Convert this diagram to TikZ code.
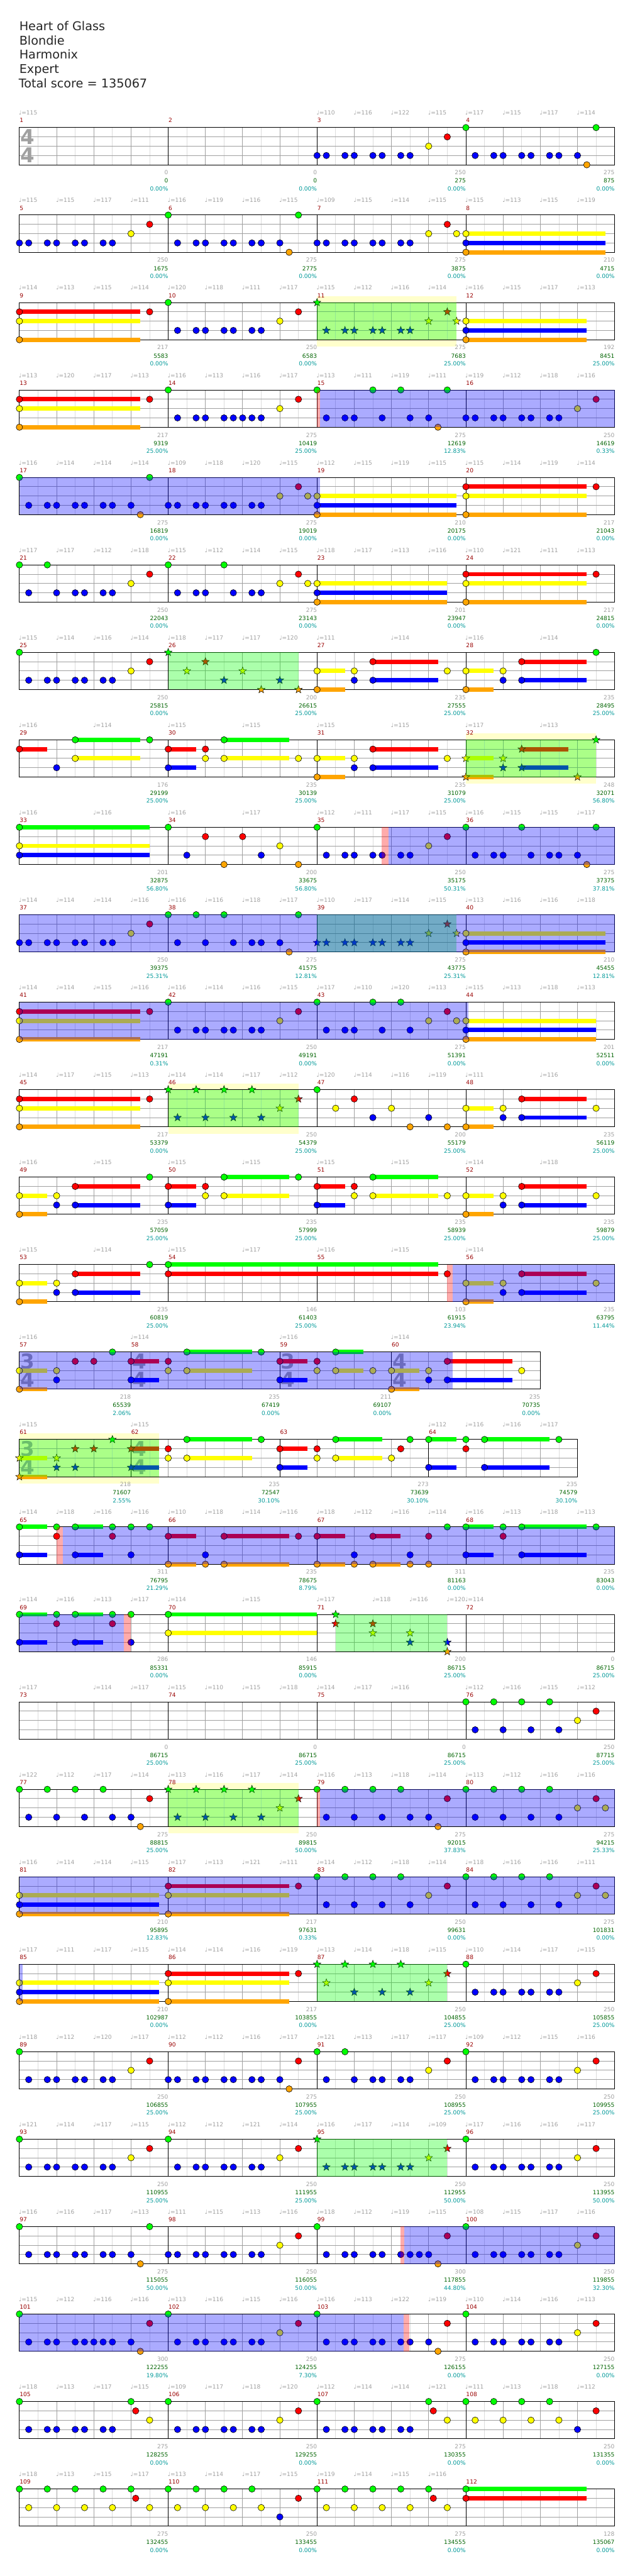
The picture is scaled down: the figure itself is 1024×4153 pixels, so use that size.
\documentclass[tikz,border=0pt]{standalone}
\usepackage{fontspec}
\setmainfont{DejaVu Sans}
\usetikzlibrary{shapes.geometric}
\definecolor{ln0}{HTML}{00FF00}
\definecolor{ln1}{HTML}{FF0000}
\definecolor{ln2}{HTML}{FFFF00}
\definecolor{ln3}{HTML}{0000FF}
\definecolor{ln4}{HTML}{FFA500}
\definecolor{tgray}{HTML}{A0A0A0}
\definecolor{bgray}{HTML}{A0A0A0}
\definecolor{hbgray}{HTML}{DCDCDC}
\definecolor{mred}{HTML}{990000}
\definecolor{sgreen}{HTML}{006400}
\definecolor{pteal}{HTML}{009999}
\definecolor{bandc}{HTML}{FFFFCC}
\tikzset{
 hbl/.style={draw=hbgray, line width=0.8},
 bl/.style={draw=bgray, line width=0.9},
 ml/.style={draw=black, line width=1},
 notec/.style={draw=black, line width=0.6},
 starn/.style={star, star points=5, star point ratio=2.4, minimum size=13, inner sep=0, draw=black, line width=0.5},
 smallf/.style={font=\fontsize{9.2}{10}\selectfont, inner sep=0},
 tmpf/.style={smallf, text=tgray},
 mnumf/.style={smallf, text=mred},
 gnumf/.style={smallf, text=tgray},
 snumf/.style={smallf, text=sgreen},
 pnumf/.style={smallf, text=pteal},
 tsf/.style={font=\fontsize{33}{33}\selectfont\bfseries, text=tgray, inner sep=0},
 titf/.style={font=\fontsize{19.5}{23}\selectfont, text=black!85, inner sep=0},
}
\newcommand\Grid[2]{%
 \pgfmathtruncatemacro\gA{#1-2}%
 \pgfmathtruncatemacro\gB{#1-4}%
 \foreach \p in {2,6,...,\gA} \draw[hbl] ({31.3+15*\p},0) -- ++(0,60);
 \foreach \p in {4,8,...,\gB} \draw[bl] ({31.3+15*\p},0) -- ++(0,60);
 \foreach \l in {1,2,3} \draw[bl] (31.3,{15*\l}) -- ({31.3+15*#1},{15*\l});
 \foreach \p in {#2} \draw[ml] ({31.3+15*\p},0) -- ++(0,60);
 \draw[ml] (31.3,0) rectangle ({31.3+15*#1},60);
}
\newcommand\Nts[1]{\foreach \p/\l in {#1}{\filldraw[notec, fill=ln\l] ({31.3+15*\p},{15*\l}) circle[radius=5.2];}}
\newcommand\Sus[1]{\foreach \p/\q/\l in {#1}{\draw[line width=7, draw=ln\l] ({31.3+15*\p},{15*\l}) -- ({31.3+15*\q},{15*\l});}}
\newcommand\Sts[1]{\foreach \p/\l in {#1}{\node[starn, fill=ln\l] at ({31.3+15*\p},{15*\l}) {};}}
\newcommand\Ovb[2]{\fill[ln3, opacity=0.33] ({31.3+15*#1},0) rectangle ({31.3+15*#2},60);}
\newcommand\Ovg[2]{\fill[ln0, opacity=0.33] ({31.3+15*#1},0) rectangle ({31.3+15*#2},60);}
\newcommand\Ovp[2]{\fill[ln1, opacity=0.33] ({31.3+15*#1},0) rectangle ({31.3+15*#2},60);}
\newcommand\Band[2]{\fill[bandc] ({31.3+15*#1},-10) rectangle ({31.3+15*#2},71);}
\newcommand\TmpFull[1]{\foreach \v [count=\i from 0] in {#1}{\node[tmpf, anchor=base west] at ({31.3+60*\i-1},-20.3) {♩=\v};}}
\newcommand\Tmp[1]{\foreach \p/\v in {#1}{\node[tmpf, anchor=base west] at ({31.3+15*\p-1},-20.3) {♩=\v};}}
\newcommand\Labs[1]{\foreach \p/\a/\b/\c in {#1}{%
 \node[gnumf, anchor=base east] at ({31.3+15*\p},76) {\a};
 \node[snumf, anchor=base east] at ({31.3+15*\p},89.3) {\b};
 \node[pnumf, anchor=base east] at ({31.3+15*\p},102) {\c\%};}}
\newcommand\LabFull[1]{\foreach \a/\b/\c [count=\i from 1] in {#1}{%
 \node[gnumf, anchor=base east] at ({31.3+240*\i},76) {\a};
 \node[snumf, anchor=base east] at ({31.3+240*\i},89.3) {\b};
 \node[pnumf, anchor=base east] at ({31.3+240*\i},102) {\c\%};}}
\newcommand\MnumFull[1]{\foreach \i in {0,1,2,3}{\pgfmathtruncatemacro\mn{#1+\i}\node[mnumf, anchor=base west] at ({31.3+240*\i+0.3},-8) {\mn};}}
\newcommand\Mnums[1]{\foreach \p/\n in {#1}{\node[mnumf, anchor=base west] at ({31.3+15*\p+0.3},-8) {\n};}}
\newcommand\TSig[3]{\node[tsf] at ({31.3+15*#1+13.3},14.6) {#2}; \node[tsf] at ({31.3+15*#1+13.3},44.6) {#3};}
\begin{document}
\begin{tikzpicture}[x=1pt,y=-1pt]
\useasboundingbox (0,0) rectangle (1024,4153);
\fill[white] (0,0) rectangle (1024,4153);
\node[titf, anchor=base west] (title) at (31,49) {Heart of Glass};
\node[titf, anchor=base west] (artist) at (31,72) {Blondie};
\node[titf, anchor=base west] (author) at (31,95) {Harmonix};
\node[titf, anchor=base west] (level) at (31,118) {Expert};
\node[titf, anchor=base west] (total) at (30,141) {Total score = 135067};
% row 1
\begin{scope}[shift={(0,205.7)}]
\Grid{64}{16,32,48}
\TSig{0}{4}{4}
\Nts{32/3,33/3,35/3,36/3,38/3,39/3,41/3,42/3,44/2,46/1,48/0,49/3,51/3,52/3,54/3,55/3,57/3,58/3,60/3,61/4,62/0}
\Tmp{0/115,32/110,36/116,40/122,44/115,48/117,52/115,56/117,60/114}
\MnumFull{1}
\LabFull{0/0/0.00,0/0/0.00,250/275/0.00,275/875/0.00}
\end{scope}
% row 2
\begin{scope}[shift={(0,205.7+141*1)}]
\Grid{64}{16,32,48}
\Sus{48/63/2,48/63/3,48/63/4}
\Nts{0/3,1/3,3/3,4/3,6/3,7/3,9/3,10/3,12/2,14/1,16/0,17/3,19/3,20/3,22/3,23/3,25/3,26/3,28/3,29/4,30/0,32/3,33/3,35/3,36/3,38/3,39/3,41/3,42/3,44/2,46/1,47/2,48/2,48/3,48/4}
\TmpFull{115,115,117,111,116,119,116,115,109,115,114,115,115,113,115,119}
\MnumFull{5}
\LabFull{250/1675/0.00,275/2775/0.00,275/3875/0.00,210/4715/0.00}
\end{scope}
% row 3
\begin{scope}[shift={(0,205.7+141*2)}]
\Band{32}{47}
\Grid{64}{16,32,48}
\Sus{0/13/1,0/13/2,0/13/4,48/61/2,48/61/3,48/61/4}
\Nts{0/1,0/2,0/4,14/1,16/0,17/3,19/3,20/3,22/3,23/3,25/3,26/3,28/2,30/1,48/2,48/3,48/4}
\Sts{32/0,33/3,35/3,36/3,38/3,39/3,41/3,42/3,44/2,46/1,47/2}
\Ovg{32}{47}
\TmpFull{114,113,115,114,120,118,111,117,115,112,116,114,116,115,117,113}
\MnumFull{9}
\LabFull{217/5583/0.00,250/6583/0.00,275/7683/25.00,192/8451/25.00}
\end{scope}
% row 4
\begin{scope}[shift={(0,205.7+141*3)}]
\Grid{64}{16,32,48}
\Sus{0/13/1,0/13/2,0/13/4}
\Nts{0/1,0/2,0/4,14/1,16/0,17/3,19/3,20/3,22/3,23/3,24/3,25/3,26/3,28/2,30/1,32/0,33/3,35/3,36/3,38/0,39/3,41/0,42/3,44/3,45/4,46/0,48/3,49/3,51/3,52/3,54/3,55/3,57/3,58/3,60/2,62/1}
\Ovp{32}{32.35}\Ovb{32.35}{64}
\TmpFull{113,120,117,113,116,113,116,117,113,111,119,111,119,112,118,116}
\MnumFull{13}
\LabFull{217/9319/25.00,275/10419/25.00,275/12619/12.83,250/14619/0.33}
\end{scope}
% row 5
\begin{scope}[shift={(0,205.7+141*4)}]
\Grid{64}{16,32,48}
\Sus{32/47/2,32/47/3,32/47/4,48/61/1,48/61/2,48/61/4}
\Nts{0/0,1/3,3/3,4/3,6/3,7/3,9/3,10/3,12/3,13/4,14/0,16/3,17/3,19/3,20/3,22/3,23/3,25/3,26/3,28/2,30/1,31/2,32/2,32/3,32/4,48/1,48/2,48/4,62/1}
\Ovb{0}{32.35}
\TmpFull{116,114,114,114,109,118,120,115,112,115,119,115,115,114,119,114}
\MnumFull{17}
\LabFull{275/16819/0.00,275/19019/0.00,210/20175/0.00,217/21043/0.00}
\end{scope}
% row 6
\begin{scope}[shift={(0,205.7+141*5)}]
\Grid{64}{16,32,48}
\Sus{32/46/2,32/46/3,32/46/4,48/61/1,48/61/2,48/61/4}
\Nts{0/0,1/3,3/0,4/3,6/3,7/3,9/3,10/3,12/2,14/1,16/0,17/3,19/3,20/3,22/0,23/3,25/3,26/3,28/2,30/1,31/2,32/2,32/3,32/4,48/1,48/2,48/4,62/1}
\TmpFull{117,117,112,118,115,112,114,115,118,117,113,116,110,121,111,113}
\MnumFull{21}
\LabFull{250/22043/0.00,275/23143/0.00,201/23947/0.00,217/24815/0.00}
\end{scope}
% row 7
\begin{scope}[shift={(0,205.7+141*6)}]
\Grid{64}{16,32,48}
\Sus{32/35/2,32/35/4,38/45/1,38/45/3,48/51/2,48/51/4,54/61/1,54/61/3}
\Nts{0/0,1/3,3/3,4/3,6/3,7/3,9/3,10/3,12/2,14/1,32/2,32/4,36/2,36/3,38/1,38/3,46/2,48/2,48/4,52/2,52/3,54/1,54/3,62/0}
\Sts{16/0,18/2,20/1,22/3,24/2,26/4,28/3,30/4}
\Ovg{16}{30}
\Tmp{0/115,4/114,8/116,12/114,16/118,20/117,24/117,28/120,32/111,40/114,48/116,56/114}
\MnumFull{25}
\LabFull{250/25815/0.00,200/26615/25.00,235/27555/25.00,235/28495/25.00}
\end{scope}
% row 8
\begin{scope}[shift={(0,205.7+141*7)}]
\Band{48}{62}
\Grid{64}{16,32,48}
\Sus{0/3/1,6/13/0,6/13/2,16/19/1,16/19/3,22/29/0,22/29/2,32/35/2,32/35/4,38/45/1,38/45/3,48/51/2,48/51/4,54/59/1,54/59/3}
\Nts{0/1,4/3,6/0,6/2,14/0,16/1,16/3,20/1,20/2,22/0,22/2,30/2,32/2,32/4,36/2,36/3,38/1,38/3,46/2}
\Sts{48/2,48/4,52/2,52/3,54/1,54/3,60/4,62/0}
\Ovg{48}{62}
\Tmp{0/116,8/114,16/115,24/115,32/115,40/115,48/117,56/113}
\MnumFull{29}
\LabFull{176/29199/25.00,235/30139/25.00,235/31079/25.00,248/32071/56.80}
\end{scope}
% row 9
\begin{scope}[shift={(0,205.7+141*8)}]
\Grid{64}{16,32,48}
\Sus{0/14/0,0/14/2,0/14/3}
\Nts{0/0,0/2,0/3,16/0,18/3,20/1,22/4,24/1,26/3,28/2,30/4,32/0,33/3,35/3,36/3,38/3,39/3,41/3,42/3,44/2,46/1,48/0,49/3,51/3,52/3,54/0,55/3,57/3,58/3,60/3,61/4,62/0}
\Ovp{38.96}{39.7}\Ovb{39.7}{64}
\Tmp{0/116,8/116,16/116,24/117,32/112,36/111,40/117,44/115,48/116,52/115,56/115,60/117}
\MnumFull{33}
\LabFull{201/32875/56.80,200/33675/56.80,250/35175/50.31,275/37375/37.81}
\end{scope}
% row 10
\begin{scope}[shift={(0,205.7+141*9)}]
\Grid{64}{16,32,48}
\Sus{48/63/2,48/63/3,48/63/4}
\Nts{0/3,1/3,3/3,4/3,6/3,7/3,9/3,10/3,12/2,14/1,16/0,17/3,19/0,20/3,22/0,23/3,25/3,26/3,28/3,29/4,30/0,48/2,48/3,48/4}
\Sts{32/3,33/3,35/3,36/3,38/3,39/3,41/3,42/3,44/2,46/1,47/2}
\Ovg{32}{47}\Ovb{0}{64}
\TmpFull{114,114,114,116,116,116,118,117,110,117,114,115,113,116,116,118}
\MnumFull{37}
\LabFull{250/39375/25.31,275/41575/12.81,275/43775/25.31,210/45455/12.81}
\end{scope}
% row 11
\begin{scope}[shift={(0,205.7+141*10)}]
\Grid{64}{16,32,48}
\Sus{0/13/1,0/13/2,0/13/4,48/62/2,48/62/3,48/62/4}
\Nts{0/1,0/2,0/4,14/1,16/0,17/3,19/3,20/3,22/3,23/3,25/3,26/3,28/2,30/1,32/0,33/3,35/3,36/3,38/0,39/3,41/0,42/3,44/2,46/1,47/2,48/2,48/3,48/4}
\Ovb{0}{48.3}
\TmpFull{114,114,115,116,116,114,116,115,117,110,120,113,115,113,118,113}
\MnumFull{41}
\LabFull{217/47191/0.31,250/49191/0.00,275/51391/0.00,201/52511/0.00}
\end{scope}
% row 12
\begin{scope}[shift={(0,205.7+141*11)}]
\Band{16}{30}
\Grid{64}{16,32,48}
\Sus{0/13/1,0/13/2,0/13/4,48/51/2,48/51/4,54/61/1,54/61/3}
\Nts{0/1,0/2,0/4,14/1,32/0,34/2,36/1,38/3,40/2,42/4,44/3,46/4,48/2,48/4,52/2,52/3,54/1,54/3,62/2}
\Sts{16/0,17/3,19/0,20/3,22/0,23/3,25/0,26/3,28/2,30/1}
\Ovg{16}{30}
\Tmp{0/114,4/117,8/115,12/113,16/114,20/114,24/117,28/112,32/120,36/114,40/116,44/119,48/111,56/116}
\MnumFull{45}
\LabFull{217/53379/0.00,250/54379/25.00,200/55179/25.00,235/56119/25.00}
\end{scope}
% row 13
\begin{scope}[shift={(0,205.7+141*12)}]
\Grid{64}{16,32,48}
\Sus{0/3/2,0/3/4,6/13/1,6/13/3,16/19/1,16/19/3,22/29/0,22/29/2,32/35/1,32/35/3,38/45/0,38/45/2,48/51/2,48/51/4,54/61/1,54/61/3}
\Nts{0/2,0/4,4/2,4/3,6/1,6/3,14/0,16/1,16/3,20/1,20/2,22/0,22/2,30/0,32/1,32/3,36/1,36/2,38/0,38/2,46/2,48/2,48/4,52/2,52/3,54/1,54/3,62/2}
\Tmp{0/116,8/115,16/115,24/115,32/115,40/115,48/114,56/118}
\MnumFull{49}
\LabFull{235/57059/25.00,235/57999/25.00,235/58939/25.00,235/59879/25.00}
\end{scope}
% row 14
\begin{scope}[shift={(0,205.7+141*13)}]
\Grid{64}{16,32,48}
\Sus{0/3/2,0/3/4,6/13/1,6/13/3,16/45/0,16/45/1,48/51/2,48/51/4,54/61/1,54/61/3}
\Nts{0/2,0/4,4/2,4/3,6/1,6/3,14/0,16/0,16/1,46/1,48/2,48/4,52/2,52/3,54/1,54/3,62/2}
\Ovp{46}{46.6}\Ovb{46.6}{64}
\Tmp{0/115,8/114,16/115,24/117,32/116,40/115,48/114}
\MnumFull{53}
\LabFull{235/60819/25.00,146/61403/25.00,103/61915/23.94,235/63795/11.44}
\end{scope}
% row 15
\begin{scope}[shift={(0,205.7+141*14)}]
\Grid{56}{12,28,40}
\TSig{0}{3}{4}\TSig{12}{4}{4}\TSig{28}{3}{4}\TSig{40}{4}{4}
\Sus{0/3/2,0/3/4,12/15/1,12/15/3,18/25/0,18/25/2,28/31/1,28/31/3,34/37/0,34/37/2,40/43/2,40/43/4,46/53/1,46/53/3}
\Nts{0/2,0/4,4/2,4/3,6/1,8/1,10/0,12/1,12/3,16/1,16/2,18/0,18/2,26/0,28/1,28/3,32/1,32/2,34/0,34/2,38/2,40/2,40/4,44/2,44/3,46/1,46/3,54/2}
\Ovb{0}{46.6}
\Tmp{0/116,12/114,28/116,40/114}
\Mnums{0/57,12/58,28/59,40/60}
\Labs{12/218/65539/2.06,28/235/67419/0.00,40/211/69107/0.00,56/235/70735/0.00}
\end{scope}
% row 16
\begin{scope}[shift={(0,205.7+141*15)}]
\Band{0}{15}
\Grid{60}{12,28,44}
\TSig{0}{3}{4}\TSig{12}{4}{4}
\Sus{0/3/2,0/3/4,12/15/1,12/15/3,18/25/0,18/25/2,28/31/1,28/31/3,34/39/0,34/39/2,44/47/0,44/47/3,50/57/0,50/57/3}
\Sts{0/2,0/4,4/2,4/3,6/1,6/3,8/1,10/0,12/1,12/3}
\Nts{16/1,16/2,18/0,18/2,26/0,28/1,28/3,32/1,32/2,34/0,34/2,40/2,41/1,42/0,44/0,44/3,48/0,48/1,50/0,50/3,58/0}
\Ovg{0}{15}
\Tmp{0/115,12/115,44/112,48/116,52/116,56/117}
\Mnums{0/61,12/62,28/63,44/64}
\Labs{12/218/71607/2.55,28/235/72547/30.10,44/273/73639/30.10,60/235/74579/30.10}
\end{scope}
% row 17
\begin{scope}[shift={(0,205.7+141*16)}]
\Grid{64}{16,32,48}
\Sus{0/3/0,0/3/3,6/9/0,6/9/3,16/19/1,16/19/4,22/29/1,22/29/4,32/35/1,32/35/4,38/41/1,38/41/4,48/51/0,48/51/3,54/61/0,54/61/3}
\Nts{0/0,0/3,4/0,4/1,6/0,6/3,10/0,10/1,12/0,12/3,14/0,16/1,16/4,20/3,20/4,22/1,22/4,30/1,32/1,32/4,36/3,36/4,38/1,38/4,42/3,42/4,44/1,44/4,46/0,48/0,48/3,52/0,52/1,54/0,54/3,62/0}
\Ovp{4}{4.66}\Ovb{4.66}{64}
\TmpFull{114,118,116,116,110,118,114,116,118,112,116,114,116,113,118,113}
\MnumFull{65}
\LabFull{311/76795/21.29,235/78675/8.79,311/81163/0.00,235/83043/0.00}
\end{scope}
% row 18
\begin{scope}[shift={(0,205.7+141*17)}]
\Grid{64}{16,32,48}
\Sus{0/3/0,0/3/3,6/9/0,6/9/3,16/32/0,16/32/2}
\Nts{0/0,0/3,4/0,4/1,6/0,6/3,10/0,10/1,12/0,12/3,16/0,16/2}
\Sts{34/0,34/1,38/1,38/2,42/2,42/3,46/3,46/4}
\Ovb{0}{11.2}\Ovp{11.2}{12}\Ovg{34}{46}
\Tmp{0/114,4/116,8/113,12/117,16/114,24/115,32/117,38/118,42/116,46/120,48/114}
\MnumFull{69}
\LabFull{286/85331/0.00,146/85915/0.00,200/86715/25.00,0/86715/25.00}
\end{scope}
% row 19
\begin{scope}[shift={(0,205.7+141*18)}]
\Grid{64}{16,32,48}
\Nts{48/0,49/3,51/0,52/3,54/0,55/3,57/0,58/3,60/2,62/1}
\Tmp{0/117,8/114,12/117,16/115,20/110,24/115,28/118,32/114,36/117,40/116,48/112,52/116,56/115,60/112}
\MnumFull{73}
\LabFull{0/86715/25.00,0/86715/25.00,0/86715/25.00,250/87715/25.00}
\end{scope}
% row 20
\begin{scope}[shift={(0,205.7+141*19)}]
\Band{16}{30}
\Grid{64}{16,32,48}
\Nts{0/0,1/3,3/0,4/3,6/0,7/3,9/0,10/3,12/3,13/4,14/1,32/0,33/3,35/0,36/3,38/0,39/3,41/0,42/3,44/3,45/4,46/1,48/0,49/3,51/0,52/3,54/0,55/3,57/0,58/3,60/2,62/1,63/2}
\Sts{16/0,17/3,19/0,20/3,22/0,23/3,25/0,26/3,28/2,30/1}
\Ovg{16}{30}\Ovp{32}{32.35}\Ovb{32.35}{64}
\TmpFull{122,112,117,114,113,116,117,114,116,113,118,114,113,112,116,116}
\MnumFull{77}
\LabFull{275/88815/25.00,250/89815/50.00,275/92015/37.83,275/94215/25.33}
\end{scope}
% row 21
\begin{scope}[shift={(0,205.7+141*20)}]
\Grid{64}{16,32,48}
\Sus{0/15/2,0/15/3,0/15/4,16/29/1,16/29/2,16/29/4}
\Nts{0/2,0/3,0/4,16/1,16/2,16/4,30/1,32/0,33/3,35/0,36/3,38/0,39/3,41/0,42/3,44/2,46/1,48/0,49/3,51/0,52/3,54/0,55/3,57/0,58/3,60/2,62/1,63/2}
\Ovb{0}{64}
\TmpFull{116,114,114,115,117,113,121,111,114,112,118,114,118,116,116,111}
\MnumFull{81}
\LabFull{210/95895/12.83,217/97631/0.33,250/99631/0.00,275/101831/0.00}
\end{scope}
% row 22
\begin{scope}[shift={(0,205.7+141*21)}]
\Grid{64}{16,32,48}
\Sus{0/15/2,0/15/3,0/15/4,16/29/1,16/29/2,16/29/4}
\Nts{0/2,0/3,0/4,16/1,16/2,16/4,30/1,48/0,49/3,51/3,52/3,54/3,55/3,57/3,58/3,60/2,62/1}
\Sts{32/0,33/2,35/0,36/3,38/0,39/3,41/0,42/3,44/2,46/1}
\Ovb{0}{0.35}\Ovg{32}{46}
\TmpFull{117,111,117,115,114,114,116,119,113,114,118,115,110,114,117,115}
\MnumFull{85}
\LabFull{210/102987/0.00,217/103855/0.00,250/104855/25.00,250/105855/25.00}
\end{scope}
% row 23
\begin{scope}[shift={(0,205.7+141*22)}]
\Grid{64}{16,32,48}
\Nts{0/0,1/3,3/3,4/3,6/3,7/3,9/3,10/3,12/2,14/1,16/3,17/3,19/3,20/3,22/3,23/3,25/3,26/3,28/3,29/4,30/1,32/0,33/3,35/0,36/3,38/3,39/3,41/3,42/3,44/2,46/1,48/0,49/3,51/3,52/3,54/3,55/3,57/3,58/3,60/2,62/1}
\TmpFull{118,112,120,117,112,112,116,117,121,113,117,117,109,112,115,116}
\MnumFull{89}
\LabFull{250/106855/25.00,275/107955/25.00,250/108955/25.00,250/109955/25.00}
\end{scope}
% row 24
\begin{scope}[shift={(0,205.7+141*23)}]
\Grid{64}{16,32,48}
\Nts{0/0,1/3,3/3,4/3,6/3,7/3,9/3,10/3,12/2,14/1,16/0,17/3,19/3,20/3,22/3,23/3,25/3,26/3,28/2,30/1,48/0,49/3,51/3,52/3,54/3,55/3,57/3,58/3,60/2,62/1}
\Sts{32/0,33/3,35/3,36/3,38/3,39/3,41/3,42/3,44/2,46/1}
\Ovg{32}{46}
\TmpFull{121,114,117,115,112,112,121,114,116,117,114,109,117,116,116,117}
\MnumFull{93}
\LabFull{250/110955/25.00,250/111955/25.00,250/112955/50.00,250/113955/50.00}
\end{scope}
% row 25
\begin{scope}[shift={(0,205.7+141*24)}]
\Grid{64}{16,32,48}
\Nts{0/0,1/3,3/3,4/3,6/3,7/3,9/3,10/3,12/3,13/4,14/0,16/3,17/3,19/3,20/3,22/3,23/3,25/3,26/3,28/2,30/1,32/0,33/3,35/3,36/3,38/3,39/3,41/3,42/3,43/3,44/3,45/4,46/1,48/0,49/3,51/3,52/3,54/3,55/3,57/3,58/3,60/2,62/1}
\Ovp{41}{41.35}\Ovb{41.35}{64}
\TmpFull{116,116,117,113,111,115,113,116,118,112,119,115,108,115,117,116}
\MnumFull{97}
\LabFull{275/115055/50.00,250/116055/50.00,300/117855/44.80,250/119855/32.30}
\end{scope}
% row 26
\begin{scope}[shift={(0,205.7+141*25)}]
\Grid{64}{16,32,48}
\Nts{0/0,1/3,3/3,4/3,6/3,7/3,8/3,9/3,10/3,12/3,13/4,14/1,16/0,17/3,19/3,20/3,22/3,23/3,25/3,26/3,28/2,30/1,32/0,33/3,35/3,36/3,38/3,39/3,41/3,42/3,44/3,45/4,46/1,48/0,49/3,51/3,52/3,54/3,55/3,57/3,58/3,60/2,62/1}
\Ovb{0}{41.3}\Ovp{41.3}{41.95}
\TmpFull{115,112,116,116,113,116,115,116,116,113,122,119,110,114,116,113}
\MnumFull{101}
\LabFull{300/122255/19.80,250/124255/7.30,275/126155/0.00,250/127155/0.00}
\end{scope}
% row 27
\begin{scope}[shift={(0,205.7+141*26)}]
\Grid{64}{16,32,48}
\Nts{0/0,1/3,3/3,4/3,6/3,7/3,9/3,10/3,12/0,12.5/1,14/2,16/0,17/3,19/3,20/3,22/3,23/3,25/3,26/3,28/2,30/1,32/0,33/3,35/3,36/3,38/3,39/3,41/3,42/3,44/0,44.5/1,46/2,48/0,49/2,51/0,52/2,54/0,55/2,57/0,58/2,60/3,62/1}
\TmpFull{118,113,117,115,109,117,118,120,112,114,114,121,111,113,118,112}
\MnumFull{105}
\LabFull{275/128255/0.00,250/129255/0.00,275/130355/0.00,250/131355/0.00}
\end{scope}
% row 28
\begin{scope}[shift={(0,205.7+141*27)}]
\Grid{64}{16,32,48}
\Sus{48/61/0,48/61/1}
\Nts{0/0,1/2,3/0,4/2,6/0,7/2,9/0,10/2,12/0,12.5/1,14/2,16/0,17/2,19/0,20/2,22/0,23/2,25/0,26/2,28/3,30/1,32/0,33/2,35/0,36/2,38/0,39/2,41/0,42/2,44/0,44.5/1,46/2,48/0,48/1}
\TmpFull{118,113,115,117,113,114,117,115,119,114,115,116}
\MnumFull{109}
\LabFull{275/132455/0.00,250/133455/0.00,275/134555/0.00,128/135067/0.00}
\end{scope}
\end{tikzpicture}
\end{document}
